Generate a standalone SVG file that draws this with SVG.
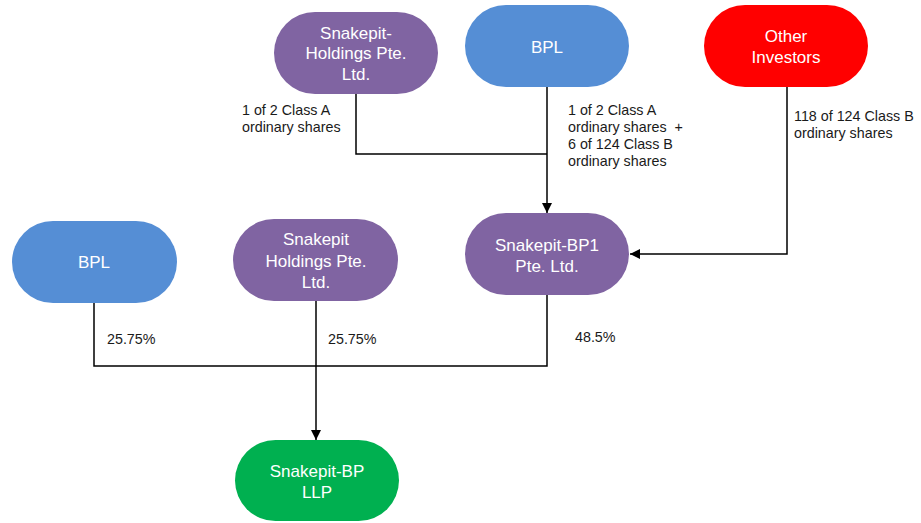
<svg xmlns="http://www.w3.org/2000/svg" width="921" height="523" viewBox="0 0 921 523">
<defs>
<style>
.node text{font-family:"Liberation Sans",Arial,sans-serif;font-size:17px;fill:#fff;text-anchor:middle}
.lbl{font-family:"Liberation Sans",Arial,sans-serif;font-size:14.3px;fill:#1a1a1a}
.purple{fill:#8064A2}
.blue{fill:#558ED5}
.red{fill:#FF0000}
.green{fill:#00B050}
.conn path{fill:none;stroke:#000;stroke-width:1.5}
</style>
<marker id="arr" viewBox="0 0 10 10" refX="10" refY="5" markerWidth="10" markerHeight="10" markerUnits="userSpaceOnUse" orient="auto">
<path d="M0,0 L10,5 L0,10 z" fill="#000"/>
</marker>
</defs>
<rect width="921" height="523" fill="#fff"/>
<g class="conn">
<path d="M356,94 V154 H547"/>
<path d="M547,87 V213" marker-end="url(#arr)"/>
<path d="M787,87 V254 H630" marker-end="url(#arr)"/>
<path d="M94,303 V366 H547 V294"/>
<path d="M316,301 V440" marker-end="url(#arr)"/>
</g>
<g id="snakepit-holdings-top" class="node">
<rect class="purple" x="274" y="12" width="164" height="82" rx="41"/>
<text x="356" y="39">Snakepit-</text>
<text x="356" y="59">Holdings Pte.</text>
<text x="356" y="80">Ltd.</text>
</g>
<g id="bpl-top" class="node">
<rect class="blue" x="465" y="5" width="164" height="82" rx="41"/>
<text x="547" y="53">BPL</text>
</g>
<g id="other-investors" class="node">
<rect class="red" x="704" y="5" width="164" height="82" rx="41"/>
<text x="786" y="42">Other</text>
<text x="786" y="63">Investors</text>
</g>
<g id="snakepit-bp1" class="node">
<rect class="purple" x="465" y="213" width="164" height="82" rx="41"/>
<text x="547" y="251">Snakepit-BP1</text>
<text x="547" y="272">Pte. Ltd.</text>
</g>
<g id="bpl-bottom" class="node">
<rect class="blue" x="12" y="221" width="165" height="82" rx="41"/>
<text x="94" y="268">BPL</text>
</g>
<g id="snakepit-holdings-bottom" class="node">
<rect class="purple" x="233" y="219" width="165" height="82" rx="41"/>
<text x="316" y="245">Snakepit</text>
<text x="316" y="267">Holdings Pte.</text>
<text x="316" y="288">Ltd.</text>
</g>
<g id="snakepit-bp-llp" class="node">
<rect class="green" x="235" y="440" width="164" height="81" rx="40.5"/>
<text x="317" y="477">Snakepit-BP</text>
<text x="317" y="498">LLP</text>
</g>
<g id="labels">
<text class="lbl" x="242" y="115">1 of 2 Class A</text>
<text class="lbl" x="242" y="132">ordinary shares</text>
<text class="lbl" x="568" y="115">1 of 2 Class A</text>
<text class="lbl" x="568" y="132" xml:space="preserve">ordinary shares  +</text>
<text class="lbl" x="568" y="149">6 of 124 Class B</text>
<text class="lbl" x="568" y="166">ordinary shares</text>
<text class="lbl" x="794" y="121">118 of 124 Class B</text>
<text class="lbl" x="794" y="138">ordinary shares</text>
<text class="lbl" x="107" y="344">25.75%</text>
<text class="lbl" x="328" y="344">25.75%</text>
<text class="lbl" x="575" y="342">48.5%</text>
</g>
</svg>
